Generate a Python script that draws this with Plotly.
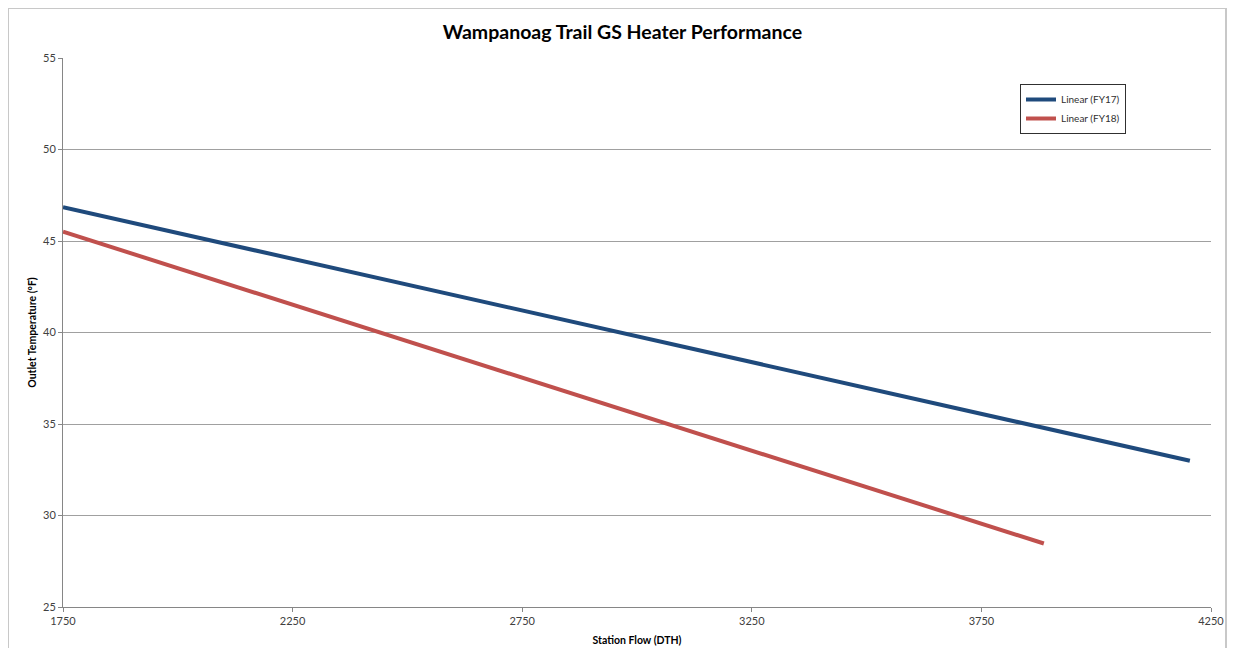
import plotly.graph_objects as go

# Trendline endpoints
fy17_x = [1750, 4204]
fy17_y = [46.85, 32.99]
fy18_x = [1750, 3886]
fy18_y = [45.51, 28.47]

x_ticks = [1750, 2250, 2750, 3250, 3750, 4250]
y_ticks = [25, 30, 35, 40, 45, 50, 55]

fig = go.Figure()
fig.add_trace(go.Scatter(x=fy17_x, y=fy17_y, mode="lines", name="Linear (FY17)",
                         line=dict(color="#1f4a7c", width=4)))
fig.add_trace(go.Scatter(x=fy18_x, y=fy18_y, mode="lines", name="Linear (FY18)",
                         line=dict(color="#c0504d", width=4)))

FONT = "Lato, Liberation Sans, sans-serif"
axis_font = dict(family=FONT, size=11, color="#404040")

W, H = 1219, 640
L, R, T, B = 55, 16, 50, 41
pw, ph = W - L - R, H - T - B

fig.update_layout(
    width=W, height=H,
    margin=dict(l=L, r=R, t=T, b=B, autoexpand=False),
    paper_bgcolor="white", plot_bgcolor="white",
    title=dict(text="<b>Wampanoag Trail GS Heater Performance</b>",
               x=0.504, xanchor="center", y=1 - 24 / H, yanchor="middle",
               font=dict(family=FONT, size=19.5, color="black")),
    xaxis=dict(range=[1750, 4250], tickvals=x_ticks, ticks="outside", ticklen=4,
               tickcolor="#868686", showline=True, linecolor="#868686", linewidth=1,
               showgrid=False, zeroline=False, tickfont=axis_font, automargin=False,
               title=dict(text="<b>Station Flow (DTH)</b>", standoff=10,
                          font=dict(family=FONT, size=10.5, color="black"))),
    yaxis=dict(range=[25, 55], tickvals=y_ticks, ticks="outside", ticklen=4,
               tickcolor="#868686", showline=True, linecolor="#868686", linewidth=1,
               showgrid=True, gridcolor="#a0a0a0", gridwidth=1, zeroline=False,
               tickfont=axis_font, automargin=False,
               title=dict(text="<b>Outlet Temperature (°F)</b>", standoff=4,
                          font=dict(family=FONT, size=10.5, color="black"))),
    legend=dict(x=(1012 - L) / pw, y=1 - (76 - T) / ph, xanchor="left", yanchor="top",
                bordercolor="#303030", borderwidth=1, bgcolor="white",
                font=dict(family=FONT, size=10, color="#303030"),
                itemwidth=30),
    showlegend=True,
    shapes=[dict(type="rect", xref="paper", yref="paper",
                 x0=-L / pw, x1=1.0 + (R - 1) / pw, y0=-0.2, y1=1.0 + T / ph,
                 line=dict(color="#c8c8c8", width=2), fillcolor="rgba(0,0,0,0)", layer="below")],
)

fig.write_html("out.html")
